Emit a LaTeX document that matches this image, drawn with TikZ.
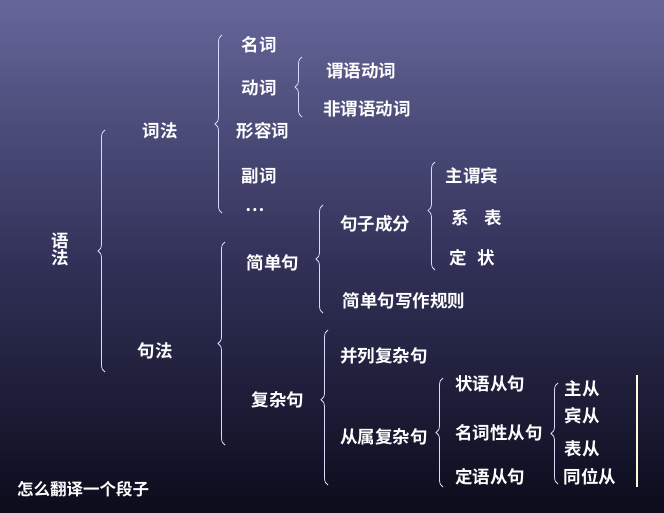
\documentclass[tikz,border=0pt]{standalone}
\usepackage{fontspec}
\setmainfont{Noto Sans CJK SC Bold}
\usetikzlibrary{decorations.pathreplacing}
\begin{document}
\begin{tikzpicture}[x=1pt,y=-1pt,
  lbl/.style={text=white,font=\fontsize{17.5}{19}\selectfont,inner sep=0pt},
  br/.style={draw=white!85!blue,line width=0.8pt,decorate,decoration={brace,amplitude=7pt,aspect=#1}},
  br/.default=0.5]
\shade[top color={rgb,255:red,102;green,102;blue,154},bottom color={rgb,255:red,12;green,12;blue,28},middle color={rgb,255:red,50;green,50;blue,90}] (0,0) rectangle (664,512);
\useasboundingbox (0,0) rectangle (664,512);
\draw[br=0.5] (105,372) -- (105,130);
\draw[br=0.5] (222,213) -- (222,35);
\draw[br=0.5] (302,117) -- (302,57);
\draw[br=0.5] (225,445) -- (225,242);
\draw[br=0.5] (323,313) -- (323,205);
\draw[br=0.55] (435,270) -- (435,162);
\draw[br=0.55] (328,485) -- (328,330);
\draw[br=0.5] (443,487) -- (443,378);
\draw[br=0.5] (558,484) -- (558,383);
\draw[white!85!yellow,line width=1.5pt] (637,375) -- (637,487);
\node[lbl,align=center] (yufa) at (60,249) {语\\[-2pt]法};
\node[lbl] (cifa) at (160,131) {词法};
\node[lbl] (juf) at (155,351) {句法};
\node[lbl] (mc) at (259,45) {名词};
\node[lbl] (dc) at (259,88) {动词};
\node[lbl] (xrc) at (263,131) {形容词};
\node[lbl] (fc) at (259,176) {副词};
\node[lbl] (dots) at (255,210) {…};
\node[lbl] (wy) at (361,71) {谓语动词};
\node[lbl] (fwy) at (367,109) {非谓语动词};
\node[lbl] (jdj) at (273,263) {简单句};
\node[lbl] (jzcf) at (375,224) {句子成分};
\node[lbl] (zwb) at (472,176) {主谓宾};
\node[lbl] (xb) at (477,218) {系\hspace{0.9em}表};
\node[lbl] (dz) at (472,258) {定\hspace{0.6em}状};
\node[lbl] (gz) at (404,301) {简单句写作规则};
\node[lbl] (fzj) at (278,400) {复杂句};
\node[lbl] (bl) at (384,356) {并列复杂句};
\node[lbl] (cs) at (384,437) {从属复杂句};
\node[lbl] (zy) at (490,384) {状语从句};
\node[lbl] (mcx) at (499,433) {名词性从句};
\node[lbl] (dy) at (490,477) {定语从句};
\node[lbl] (zc) at (582,389) {主从};
\node[lbl] (bc) at (582,416) {宾从};
\node[lbl] (biao) at (582,449) {表从};
\node[lbl] (twc) at (590,477) {同位从};
\node[lbl,font=\fontsize{16.5}{18}\selectfont] (dz2) at (83,489) {怎么翻译一个段子};
\end{tikzpicture}
\end{document}
